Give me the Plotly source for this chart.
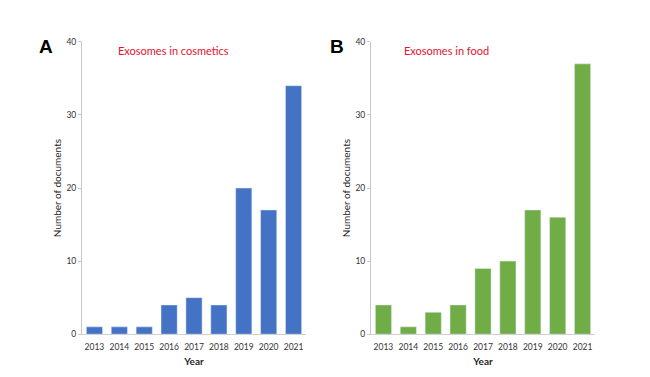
import plotly.graph_objects as go

years = ["2013", "2014", "2015", "2016", "2017", "2018", "2019", "2020", "2021"]
cosmetics_docs = [1, 1, 1, 4, 5, 4, 20, 17, 34]
food_docs = [4, 1, 3, 4, 9, 10, 17, 16, 37]
y_ticks = [0, 10, 20, 30, 40]

W, H = 650, 377
# empirical screen-to-layout correction
def fx(px): return (px - 7) / W
def fy(py): return 1 - ((py - 12) / 0.976) / H

fig = go.Figure()
fig.add_trace(go.Bar(x=years, y=cosmetics_docs, marker_color="#4472C4", width=0.65,
                     xaxis="x", yaxis="y", showlegend=False))
fig.add_trace(go.Bar(x=years, y=food_docs, marker_color="#70AD47", width=0.65,
                     xaxis="x2", yaxis="y2", showlegend=False))

tickfont = dict(family="Lato", size=8.5, color="#333333")
titlefont = dict(family="Lato", size=10, color="#262626")
common_x = dict(type="category", showline=True, linecolor="#D0D0D0", linewidth=1,
                ticks="", ticklabelstandoff=5, tickfont=tickfont, showgrid=False,
                zeroline=False,
                title=dict(text="<b>Year</b>", font=titlefont, standoff=6))
common_y = dict(range=[0, 40], tickvals=y_ticks, showline=True, linecolor="#C8C8C8",
                linewidth=1, ticks="outside", ticklen=3, tickcolor="#C8C8C8",
                tickfont=tickfont, showgrid=False, zeroline=False,
                title=dict(text="Number of documents", font=titlefont, standoff=2))

fig.update_layout(
    width=W, height=H, margin=dict(l=0, r=0, t=0, b=0),
    paper_bgcolor="white", plot_bgcolor="white", bargap=0.35,
    font=dict(family="Lato"),
    xaxis=dict(domain=[fx(81), fx(305)], anchor="y", **common_x),
    yaxis=dict(domain=[fy(334), fy(41)], anchor="x", **common_y),
    xaxis2=dict(domain=[fx(370), fx(594)], anchor="y2", **common_x),
    yaxis2=dict(domain=[fy(334), fy(41)], anchor="x2", **common_y),
    annotations=[
        dict(text="<b>A</b>", x=fx(45), y=fy(46), xref="paper", yref="paper",
             xanchor="center", yanchor="middle", showarrow=False,
             font=dict(family="Liberation Sans", size=19, color="black")),
        dict(text="<b>B</b>", x=fx(336), y=fy(46), xref="paper", yref="paper",
             xanchor="center", yanchor="middle", showarrow=False,
             font=dict(family="Liberation Sans", size=19, color="black")),
        dict(text="Exosomes in cosmetics", x=fx(172), y=fy(50), xref="paper", yref="paper",
             xanchor="center", yanchor="middle", showarrow=False,
             font=dict(family="Lato", size=11, color="#E8112D")),
        dict(text="Exosomes in food", x=fx(445), y=fy(50), xref="paper", yref="paper",
             xanchor="center", yanchor="middle", showarrow=False,
             font=dict(family="Lato", size=11, color="#E8112D")),
    ],
)

fig.write_html("out.html")
